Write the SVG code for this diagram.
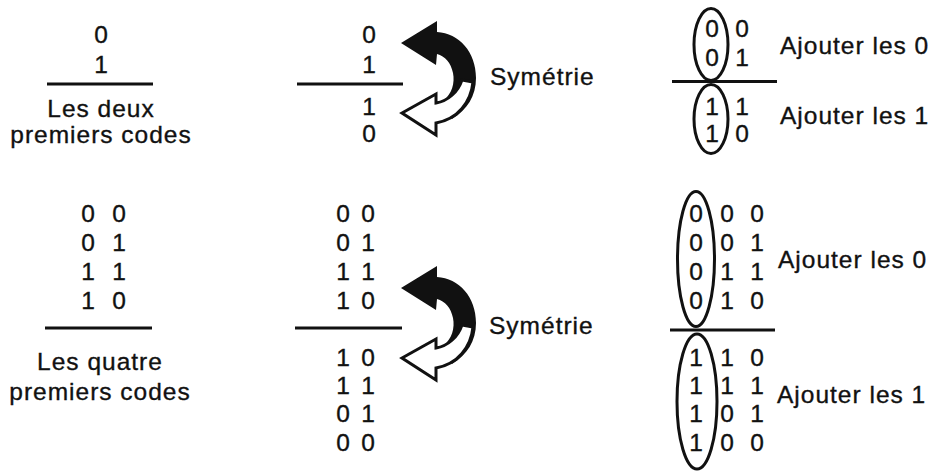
<svg xmlns="http://www.w3.org/2000/svg" xmlns:xlink="http://www.w3.org/1999/xlink" width="934" height="471" viewBox="0 0 934 471">
  <style>
    text { font-family: "Liberation Sans", Arial, Helvetica, sans-serif; font-size: 24.5px; fill: #111; stroke: #111; stroke-width: 0.35px; }
    .d { text-anchor: middle; }
    .c { text-anchor: middle; letter-spacing: 1px; }
    .l { letter-spacing: 1px; }
    .rule { stroke: #111; stroke-width: 3; }
    .ring { fill: none; stroke: #111; stroke-width: 3; }
  </style>
  <defs>
    <!-- U-turn arrow: solid half points back up, hollow half points down -->
    <g id="uturn">
      <path fill="#111" d="M401,43 L437,21 L437,32 C459,33 476,52 476,78 C476,96 467,110 452,119 L443,101 C452,94 455,83 453,73 C451,63 445,56 437,54 L436,65 Z"/>
      <path fill="#fff" stroke="#111" stroke-width="3" stroke-linejoin="miter" d="M402,113 L436,94 L436,103 C448,101 458,92 462,80 L473,82 C471,102 458,119 436,123 L436,135 Z"/>
    </g>
  </defs>

  <!-- Row 1: one-bit codes -->
  <g id="codes1">
    <text class="d" x="101" y="43">0</text>
    <text class="d" x="101" y="73">1</text>
    <line class="rule" x1="47" y1="84" x2="153" y2="84"/>
    <text class="c" x="101" y="117">Les deux</text>
    <text class="c" x="101" y="143">premiers codes</text>
  </g>

  <g id="mirror1">
    <text class="d" x="369" y="43">0</text>
    <text class="d" x="369" y="73">1</text>
    <line class="rule" x1="297" y1="84" x2="403" y2="84"/>
    <text class="d" x="369" y="115">1</text>
    <text class="d" x="369" y="142">0</text>
  </g>

  <g id="arrow1">
    <use xlink:href="#uturn"/>
    <text class="l" x="490" y="85">Symétrie</text>
  </g>

  <g id="prefix1">
    <ellipse class="ring" cx="711" cy="44.5" rx="17" ry="36"/>
    <ellipse class="ring" cx="711" cy="119" rx="17" ry="34.5"/>
    <line class="rule" x1="672" y1="81.5" x2="777" y2="81.5"/>
    <text class="d" x="712" y="37">0</text>
    <text class="d" x="712" y="66">0</text>
    <text class="d" x="712" y="115">1</text>
    <text class="d" x="712" y="142">1</text>
    <text class="d" x="742" y="37">0</text>
    <text class="d" x="742" y="66">1</text>
    <text class="d" x="742" y="115">1</text>
    <text class="d" x="742" y="142">0</text>
    <text class="l" x="780" y="54">Ajouter les 0</text>
    <text class="l" x="780" y="124">Ajouter les 1</text>
  </g>

  <!-- Row 2: two-bit codes -->
  <g id="codes2">
    <text class="d" x="88" y="222">0</text><text class="d" x="119" y="222">0</text>
    <text class="d" x="88" y="251">0</text><text class="d" x="119" y="251">1</text>
    <text class="d" x="88" y="280">1</text><text class="d" x="119" y="280">1</text>
    <text class="d" x="88" y="309">1</text><text class="d" x="119" y="309">0</text>
    <line class="rule" x1="45" y1="328" x2="152" y2="328"/>
    <text class="c" x="100" y="370">Les quatre</text>
    <text class="c" x="100" y="400">premiers codes</text>
  </g>

  <g id="mirror2">
    <text class="d" x="343" y="222">0</text><text class="d" x="368" y="222">0</text>
    <text class="d" x="343" y="251">0</text><text class="d" x="368" y="251">1</text>
    <text class="d" x="343" y="280">1</text><text class="d" x="368" y="280">1</text>
    <text class="d" x="343" y="309">1</text><text class="d" x="368" y="309">0</text>
    <line class="rule" x1="295" y1="328" x2="402" y2="328"/>
    <text class="d" x="343" y="366">1</text><text class="d" x="368" y="366">0</text>
    <text class="d" x="343" y="394">1</text><text class="d" x="368" y="394">1</text>
    <text class="d" x="343" y="422">0</text><text class="d" x="368" y="422">1</text>
    <text class="d" x="343" y="451">0</text><text class="d" x="368" y="451">0</text>
  </g>

  <g id="arrow2">
    <use xlink:href="#uturn" transform="translate(0,245)"/>
    <text class="l" x="489" y="334">Symétrie</text>
  </g>

  <g id="prefix2">
    <ellipse class="ring" cx="696" cy="259" rx="18.5" ry="67.5"/>
    <ellipse class="ring" cx="697" cy="401.5" rx="20" ry="67.5"/>
    <line class="rule" x1="670" y1="330" x2="775" y2="330"/>
    <text class="d" x="696" y="222">0</text><text class="d" x="727" y="222">0</text><text class="d" x="757" y="222">0</text>
    <text class="d" x="696" y="251">0</text><text class="d" x="727" y="251">0</text><text class="d" x="757" y="251">1</text>
    <text class="d" x="696" y="280">0</text><text class="d" x="727" y="280">1</text><text class="d" x="757" y="280">1</text>
    <text class="d" x="696" y="309">0</text><text class="d" x="727" y="309">1</text><text class="d" x="757" y="309">0</text>
    <text class="d" x="696" y="366">1</text><text class="d" x="727" y="366">1</text><text class="d" x="757" y="366">0</text>
    <text class="d" x="696" y="394">1</text><text class="d" x="727" y="394">1</text><text class="d" x="757" y="394">1</text>
    <text class="d" x="696" y="422">1</text><text class="d" x="727" y="422">0</text><text class="d" x="757" y="422">1</text>
    <text class="d" x="696" y="451">1</text><text class="d" x="727" y="451">0</text><text class="d" x="757" y="451">0</text>
    <text class="l" x="778" y="268">Ajouter les 0</text>
    <text class="l" x="777" y="403">Ajouter les 1</text>
  </g>
</svg>
